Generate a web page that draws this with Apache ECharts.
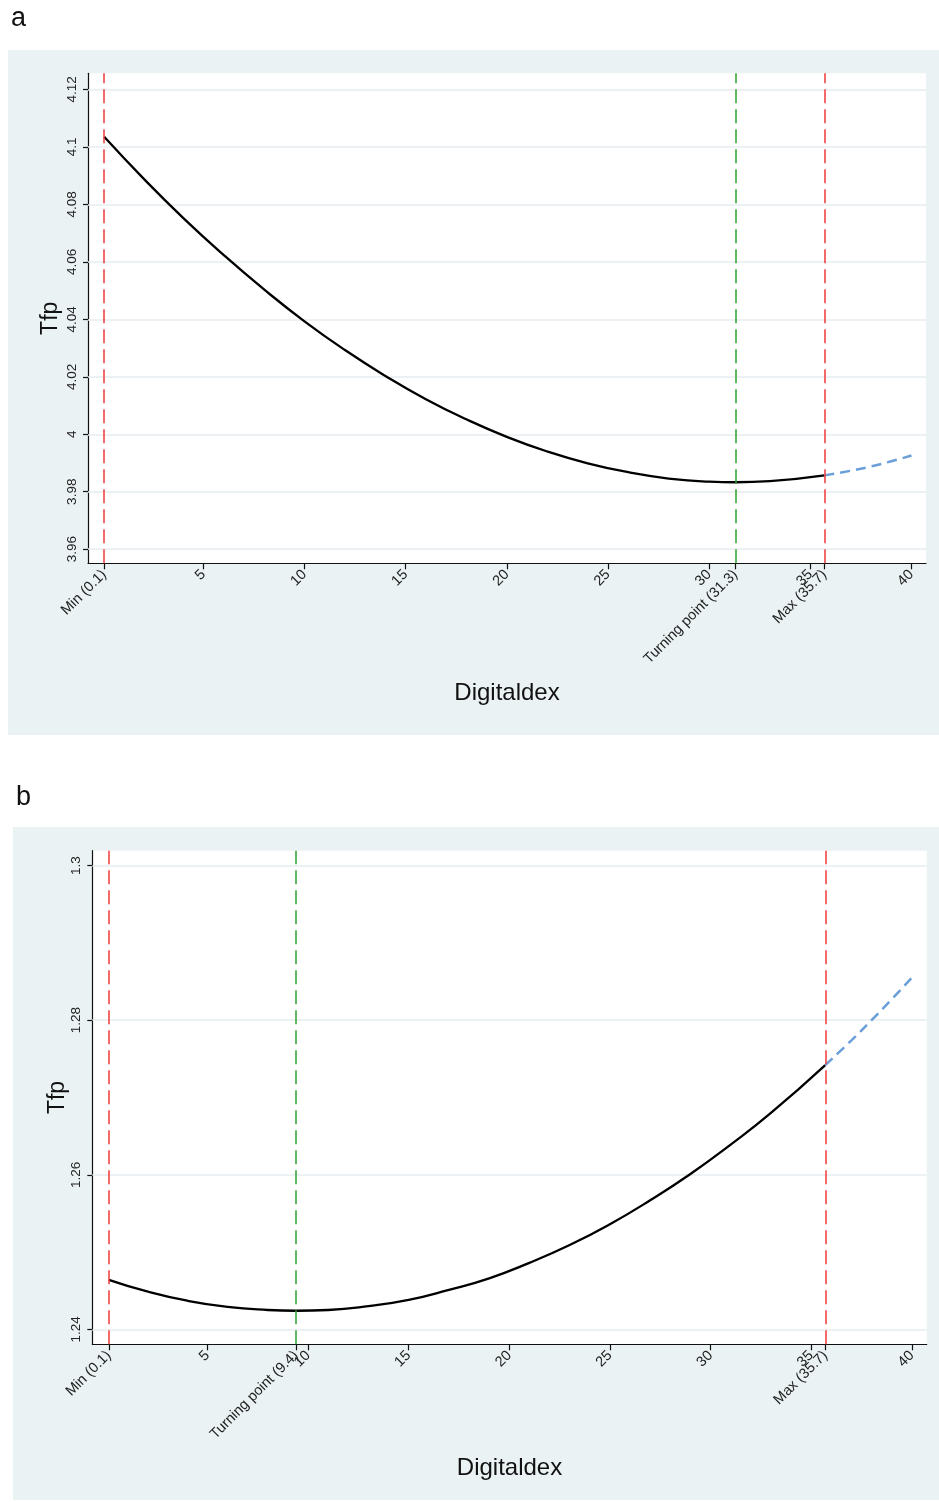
<!DOCTYPE html>
<html>
<head>
<meta charset="utf-8">
<script src="https://cdn.jsdelivr.net/npm/echarts@6/dist/echarts.min.js"></script>
<style>
html,body{margin:0;padding:0;background:#ffffff;}
#chart{width:939px;height:1502px;}
</style>
</head>
<body>
<div id="chart"></div>
<script>
// ---------- Panel a ----------
const fitXA = [0.1, 2, 4, 6, 8, 10, 12, 14, 16, 18, 20, 22, 24, 26, 28, 30, 31.3, 33, 35.7];
const fitYA = [4.1035, 4.0893, 4.0753, 4.0624, 4.0504, 4.0393, 4.0293, 4.0203, 4.0122, 4.0052, 3.9991, 3.9940, 3.9899, 3.9868, 3.9846, 3.9835, 3.9833, 3.9837, 3.9857];
const extXA = [35.7, 37, 38, 39, 40];
const extYA = [3.9857, 3.9873, 3.9888, 3.9906, 3.9926];
const yTicksA = [3.96, 3.98, 4, 4.02, 4.04, 4.06, 4.08, 4.1, 4.12];
const yTickLabelsA = ['3.96', '3.98', '4', '4.02', '4.04', '4.06', '4.08', '4.1', '4.12'];
const xTicksA = [0.1, 5, 10, 15, 20, 25, 30, 31.3, 35, 35.7, 40];
const xTickLabelsA = ['Min (0.1)', '5', '10', '15', '20', '25', '30', 'Turning point (31.3)', '35', 'Max (35.7)', '40'];
const redLinesA = [0.1, 35.7];
const greenLinesA = [31.3];

// ---------- Panel b ----------
const fitXB = [0.1, 2, 4, 6, 8, 9.4, 11, 13, 15, 17, 19, 21, 23, 25, 27, 29, 31, 33, 35.7];
const fitYB = [1.2464, 1.2449, 1.2437, 1.2429, 1.2425, 1.2424, 1.2425, 1.2430, 1.2438, 1.2451, 1.2466, 1.2486, 1.2509, 1.2536, 1.2567, 1.2601, 1.2639, 1.2680, 1.2742];
const extXB = [35.7, 37, 38, 39, 40];
const extYB = [1.2742, 1.2774, 1.2800, 1.2827, 1.2855];
const yTicksB = [1.24, 1.26, 1.28, 1.3];
const yTickLabelsB = ['1.24', '1.26', '1.28', '1.3'];
const xTicksB = [0.1, 5, 9.4, 10, 15, 20, 25, 30, 35, 35.7, 40];
const xTickLabelsB = ['Min (0.1)', '5', 'Turning point (9.4)', '10', '15', '20', '25', '30', '35', 'Max (35.7)', '40'];
const redLinesB = [0.1, 35.7];
const greenLinesB = [9.4];

const xName = 'Digitaldex';
const yName = 'Tfp';

const FONT = '"Liberation Sans", Arial, Helvetica, sans-serif';
const BG = '#eaf2f3';
const GRIDC = '#e6eef0';

function pairs(xs, ys) { return xs.map((x, i) => [x, ys[i]]); }
function lookup(vals, labels) {
  return function (v) {
    for (let i = 0; i < vals.length; i++) if (Math.abs(vals[i] - v) < 1e-6) return labels[i];
    return '';
  };
}

function xAxisCfg(gridIndex, min, max, ticks, labels, gap) {
  return {
    type: 'value', gridIndex: gridIndex, min: min, max: max,
    name: xName, nameLocation: 'middle', nameGap: gap, nameMoveOverlap: false,
    nameTextStyle: { fontFamily: FONT, fontSize: 24, color: '#111' },
    axisLine: { show: true, onZero: false, lineStyle: { color: '#111', width: 1.2 } },
    axisTick: { show: true, length: 6, lineStyle: { color: '#111', width: 1.2 }, customValues: ticks },
    axisLabel: { show: true, rotate: 45, margin: 9, fontFamily: FONT, fontSize: 14.5, color: '#222',
      customValues: ticks, formatter: lookup(ticks, labels) },
    splitLine: { show: false }
  };
}
function yAxisCfg(gridIndex, min, max, ticks, labels, gap) {
  return {
    type: 'value', gridIndex: gridIndex, min: min, max: max,
    name: yName, nameLocation: 'middle', nameGap: gap, nameRotate: 90, nameMoveOverlap: false,
    nameTextStyle: { fontFamily: FONT, fontSize: 23, color: '#111' },
    axisLine: { show: true, onZero: false, lineStyle: { color: '#111', width: 1.2 } },
    axisTick: { show: true, length: 5, lineStyle: { color: '#111', width: 1.2 }, customValues: ticks },
    axisLabel: { show: true, rotate: 90, margin: 9, fontFamily: FONT, fontSize: 13.5, color: '#222',
      customValues: ticks, formatter: lookup(ticks, labels) },
    splitLine: { show: false }
  };
}

function panelSeries(idx, fitX, fitY, extX, extY, yTicks, redLines, greenLines) {
  return [
    { type: 'line', xAxisIndex: idx, yAxisIndex: idx, data: [], silent: true, z: 1,
      markLine: { z: 1, silent: true, symbol: 'none', animation: false, label: { show: false },
        lineStyle: { color: GRIDC, width: 1.5, type: 'solid' },
        data: yTicks.map(v => ({ yAxis: v })) } },
    { type: 'line', xAxisIndex: idx, yAxisIndex: idx, data: pairs(fitX, fitY), smooth: true,
      showSymbol: false, z: 3, lineStyle: { color: '#000', width: 2.3 } },
    { type: 'line', xAxisIndex: idx, yAxisIndex: idx, data: pairs(extX, extY), smooth: true,
      showSymbol: false, z: 3, lineStyle: { color: '#6a9fd8', width: 2.5, type: [10, 6] } },
    { type: 'line', xAxisIndex: idx, yAxisIndex: idx, data: [], silent: true, z: 4,
      markLine: { z: 4, silent: true, symbol: 'none', animation: false, label: { show: false },
        data: redLines.map(v => ({ xAxis: v, lineStyle: { color: '#f03a3a', width: 1.5, type: [14, 6] } }))
          .concat(greenLines.map(v => ({ xAxis: v, lineStyle: { color: '#2ea12e', width: 1.5, type: [14, 6] } }))) } }
  ];
}

const chart = echarts.init(document.getElementById('chart'), null, { renderer: 'canvas' });
chart.setOption({
  animation: false,
  backgroundColor: '#ffffff',
  textStyle: { fontFamily: FONT },
  graphic: [
    { type: 'rect', z: -10, silent: true, shape: { x: 8, y: 50, width: 931, height: 685 }, style: { fill: BG } },
    { type: 'rect', z: -10, silent: true, shape: { x: 13, y: 827, width: 926, height: 673 }, style: { fill: BG } },
    { type: 'text', left: 11, top: 5, style: { text: 'a', fontFamily: FONT, fontSize: 27, fill: '#111' } },
    { type: 'text', left: 16, top: 784, style: { text: 'b', fontFamily: FONT, fontSize: 27, fill: '#111' } }
  ],
  grid: [
    { left: 88, top: 73.3, width: 838, height: 490, show: true, backgroundColor: '#ffffff', borderWidth: 0 },
    { left: 92.3, top: 850.7, width: 834.4, height: 493.6, show: true, backgroundColor: '#ffffff', borderWidth: 0 }
  ],
  xAxis: [
    xAxisCfg(0, -0.7, 40.72, xTicksA, xTickLabelsA, 118),
    xAxisCfg(1, -0.72, 40.74, xTicksB, xTickLabelsB, 112)
  ],
  yAxis: [
    yAxisCfg(0, 3.9551, 4.1256, yTicksA, yTickLabelsA, 26),
    yAxisCfg(1, 1.23806, 1.30194, yTicksB, yTickLabelsB, 23)
  ],
  series: panelSeries(0, fitXA, fitYA, extXA, extYA, yTicksA, redLinesA, greenLinesA)
    .concat(panelSeries(1, fitXB, fitYB, extXB, extYB, yTicksB, redLinesB, greenLinesB))
});
</script>
</body>
</html>
